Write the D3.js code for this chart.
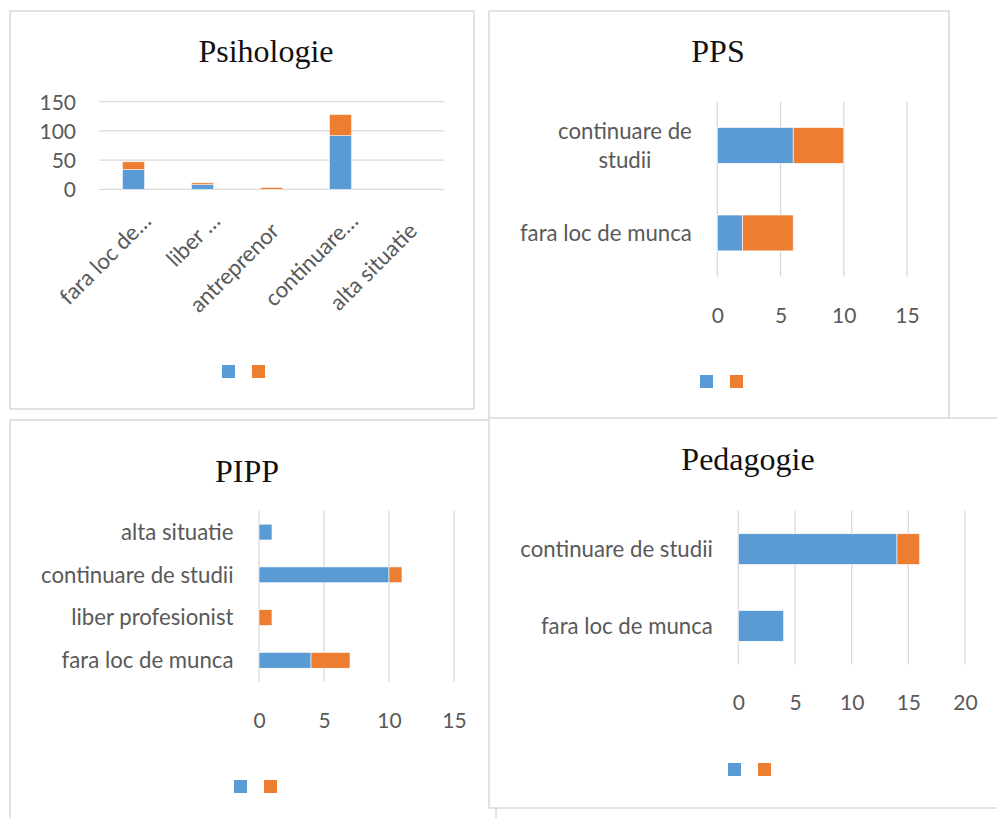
<!DOCTYPE html>
<html>
<head>
<meta charset="utf-8">
<script src="https://cdn.jsdelivr.net/npm/d3@7/dist/d3.min.js"></script>
<style>
  html, body { margin: 0; padding: 0; background: #fff; }
  svg { display: block; }
  .lbl { font-family: Lato, "Open Sans", sans-serif; font-size: 21px; fill: #595959; }
  .cat { font-family: Lato, "Open Sans", sans-serif; font-size: 22.2px; fill: #595959; }
  .ttl { font-family: "Liberation Serif", "Times New Roman", serif; font-size: 32px; fill: #111; }
</style>
</head>
<body>
<svg id="chart" width="997" height="818"></svg>
<script>
// ---- data ----
const psiCategories = ["fara loc de…", "liber …", "antreprenor", "continuare…", "alta situatie"];
const psiSeriesA = [34, 8, 0, 92, 0];
const psiSeriesB = [13, 3, 3, 36, 0];
const psiTicks = [0, 50, 100, 150];

const ppsCategories = ["fara loc de munca", "continuare de studii"];
const ppsSeriesA = [2, 6];
const ppsSeriesB = [4, 4];
const ppsTicks = [0, 5, 10, 15];

const pippCategories = ["fara loc de munca", "liber profesionist", "continuare de studii", "alta situatie"];
const pippSeriesA = [4, 0, 10, 1];
const pippSeriesB = [3, 1, 1, 0];
const pippTicks = [0, 5, 10, 15];

const pedCategories = ["fara loc de munca", "continuare de studii"];
const pedSeriesA = [4, 14];
const pedSeriesB = [0, 2];
const pedTicks = [0, 5, 10, 15, 20];

const seriesColors = ["#5B9BD5", "#ED7D31"];
const gridColor = "#d9d9d9";

const svg = d3.select("#chart");

function panel(x, y, w, h) {
  svg.append("rect")
    .attr("x", x).attr("y", y).attr("width", w).attr("height", h)
    .attr("fill", "#fff").attr("stroke", "#d9d9d9").attr("stroke-width", 1.5);
}

function stackRows(cats, a, b) {
  const rows = cats.map((c, i) => ({ cat: c, a: a[i], b: b[i] }));
  return d3.stack().keys(["a", "b"])(rows);
}

function legend(x, y) {
  const g = svg.append("g").attr("transform", `translate(${x},${y})`);
  seriesColors.forEach((c, i) => {
    g.append("rect").attr("x", i * 30).attr("y", 0)
      .attr("width", 13).attr("height", 13).attr("fill", c);
  });
}

function title(text, x, y) {
  svg.append("text").attr("class", "ttl")
    .attr("x", x).attr("y", y).attr("text-anchor", "middle").text(text);
}

// Word-wrap a category label into lines no wider than maxW
function wrapLines(text, maxW) {
  const probe = svg.append("text").attr("class", "cat");
  const words = text.split(" ");
  const lines = [];
  let cur = "";
  words.forEach(w => {
    const test = cur ? cur + " " + w : w;
    probe.text(test);
    if (probe.node().getComputedTextLength() > maxW && cur) {
      lines.push(cur);
      cur = w;
    } else {
      cur = test;
    }
  });
  if (cur) lines.push(cur);
  const widths = lines.map(l => { probe.text(l); return probe.node().getComputedTextLength(); });
  probe.remove();
  return { lines, width: d3.max(widths) };
}

// ---- vertical stacked column chart ----
function columnChart(o) {
  const x = d3.scaleBand().domain(o.cats).range([o.x0, o.x1])
    .paddingInner(1 - o.barFrac).paddingOuter((1 - o.barFrac) / 2);
  const y = d3.scaleLinear().domain([0, d3.max(o.ticks)]).range([o.y1, o.y0]);

  const grid = svg.append("g");
  o.ticks.forEach(t => {
    grid.append("line").attr("x1", o.x0).attr("x2", o.x1)
      .attr("y1", y(t)).attr("y2", y(t))
      .attr("stroke", gridColor).attr("stroke-width", 1.3);
  });

  const yAxis = svg.append("g").attr("transform", `translate(${o.x0},0)`)
    .call(d3.axisLeft(y).tickValues(o.ticks).tickSize(0).tickPadding(23));
  yAxis.select(".domain").remove();
  yAxis.selectAll("text").attr("class", "lbl").attr("dy", "0.35em");

  const stacked = stackRows(o.cats, o.a, o.b);
  stacked.forEach((layer, li) => {
    svg.append("g").selectAll("rect").data(layer.filter(d => d[1] > d[0])).join("rect")
      .attr("x", d => x(d.data.cat))
      .attr("width", x.bandwidth())
      .attr("y", d => y(d[1]))
      .attr("height", d => y(d[0]) - y(d[1]))
      .attr("fill", seriesColors[li])
      .attr("stroke", "#fff").attr("stroke-width", 0.5);
  });

  // rotated category labels
  o.cats.forEach(c => {
    const cx = x(c) + x.bandwidth() / 2;
    const truncated = c.endsWith("…");
    svg.append("text").attr("class", "cat")
      .attr("text-anchor", "end")
      .attr("transform", `translate(${cx + 9},${o.y1 + 43}) rotate(-45)`)
      .attr("dx", truncated ? 14 : 0)
      .text(c);
  });

  title(o.title, o.titleX, o.titleY);
  legend(o.legendX, o.legendY);
}

// ---- horizontal stacked bar chart ----
function barChart(o) {
  const x = d3.scaleLinear().domain([0, d3.max(o.ticks)]).range([o.x0, o.x1]);
  const y = d3.scaleBand().domain(o.cats).range([o.y1, o.y0])
    .paddingInner(1 - o.barFrac).paddingOuter((1 - o.barFrac) / 2);

  const grid = svg.append("g");
  o.ticks.forEach(t => {
    grid.append("line").attr("x1", x(t)).attr("x2", x(t))
      .attr("y1", o.y0).attr("y2", o.y1)
      .attr("stroke", gridColor).attr("stroke-width", 1.3);
  });

  const xAxis = svg.append("g").attr("transform", `translate(0,${o.y1})`)
    .call(d3.axisBottom(x).tickValues(o.ticks).tickSize(0));
  xAxis.select(".domain").remove();
  xAxis.selectAll("text").attr("class", "lbl").attr("y", 46).attr("dy", 0);

  const stacked = stackRows(o.cats, o.a, o.b);
  stacked.forEach((layer, li) => {
    svg.append("g").selectAll("rect").data(layer.filter(d => d[1] > d[0])).join("rect")
      .attr("y", d => y(d.data.cat))
      .attr("height", y.bandwidth())
      .attr("x", d => x(d[0]))
      .attr("width", d => x(d[1]) - x(d[0]))
      .attr("fill", seriesColors[li])
      .attr("stroke", "#fff").attr("stroke-width", 0.6);
  });

  // category labels, right-aligned, wrapped when too long
  const right = o.x0 - 25.5;
  const lineH = 29;
  o.cats.forEach(c => {
    const cy = y(c) + y.bandwidth() / 2;
    const w = wrapLines(c, o.labelMax);
    const n = w.lines.length;
    const t = svg.append("text").attr("class", "cat")
      .attr("text-anchor", n > 1 ? "middle" : "end");
    w.lines.forEach((line, i) => {
      t.append("tspan")
        .attr("x", n > 1 ? right - w.width / 2 : right)
        .attr("y", cy + (i - (n - 1) / 2) * lineH)
        .attr("dy", "0.35em")
        .text(line);
    });
  });

  title(o.title, o.titleX, o.titleY);
  legend(o.legendX, o.legendY);
}

// ---- panels (drawn in stacking order) ----
panel(10, 11, 464, 398);
columnChart({
  cats: psiCategories, a: psiSeriesA, b: psiSeriesB, ticks: psiTicks,
  x0: 99, x1: 444, y0: 101.7, y1: 189.3, barFrac: 0.32,
  title: "Psihologie", titleX: 266, titleY: 62,
  legendX: 222, legendY: 365
});

panel(489, 11, 460, 409);
barChart({
  cats: ppsCategories, a: ppsSeriesA, b: ppsSeriesB, ticks: ppsTicks,
  x0: 717.3, x1: 907, y0: 101.7, y1: 276.7, barFrac: 0.41, labelMax: 180,
  title: "PPS", titleX: 718, titleY: 62,
  legendX: 700, legendY: 375
});

panel(10, 420, 486, 420);
barChart({
  cats: pippCategories, a: pippSeriesA, b: pippSeriesB, ticks: pippTicks,
  x0: 259, x1: 454, y0: 510.7, y1: 681.7, barFrac: 0.37, labelMax: 400,
  title: "PIPP", titleX: 247, titleY: 482,
  legendX: 234, legendY: 780
});

panel(489, 418, 530, 390);
barChart({
  cats: pedCategories, a: pedSeriesA, b: pedSeriesB, ticks: pedTicks,
  x0: 738.3, x1: 965, y0: 510.7, y1: 664.3, barFrac: 0.40, labelMax: 400,
  title: "Pedagogie", titleX: 748, titleY: 470,
  legendX: 728, legendY: 763
});
</script>
</body>
</html>
